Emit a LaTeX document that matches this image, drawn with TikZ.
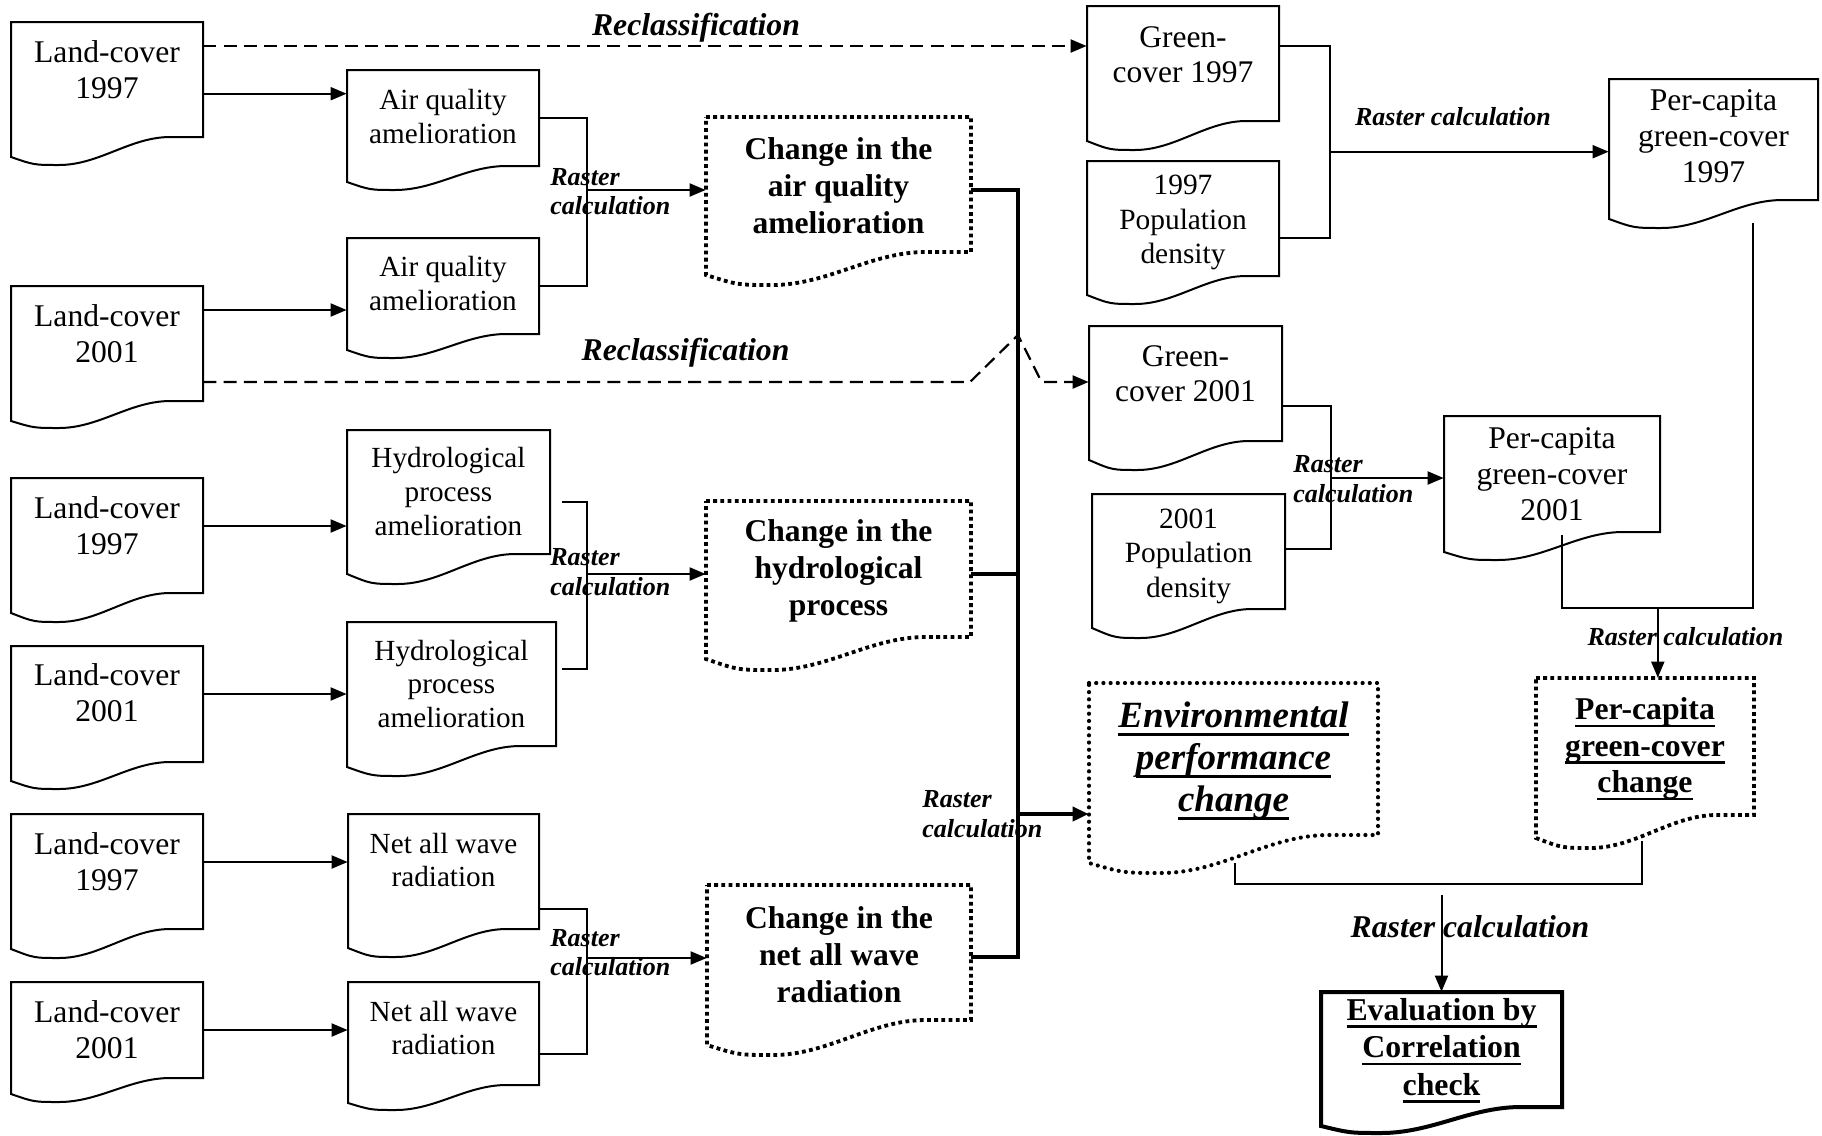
\documentclass[tikz,border=0pt]{standalone}
\usepackage{fontspec}
\setmainfont{Liberation Serif}
\usetikzlibrary{arrows.meta,calc,fit}

\newcommand\docshape[8]{%
  \pgfmathsetmacro\dshw{#5-#3}%
  \draw[#2] (#3,#4) -- (#5,#4) -- (#5,#6) -- ({#5-0.17*\dshw},#6)
     .. controls ({#5-0.38*\dshw},#6) and ({#3+0.46*\dshw},#8) .. ({#3+0.25*\dshw},#8)
     .. controls ({#3+0.12*\dshw},#8) .. (#3,#7) -- cycle;
  \node[fit={(#3,#4)(#5,#6)},inner sep=0pt] (#1) {};%
}
\newcommand\ULn[1]{\setbox0=\hbox{#1}\rlap{\raisebox{-3.8pt}{\rule{\wd0}{1.3pt}}}\box0}
\newcommand\ULnB[1]{\setbox0=\hbox{#1}\rlap{\raisebox{-4.6pt}{\rule{\wd0}{1.6pt}}}\box0}

\tikzset{
 docsty/.style={draw, line width=1pt},
 dotdoc/.style={draw, line width=1.9pt, dash pattern=on 1.9pt off 1.7pt},
 envdoc/.style={draw, line width=2.1pt, line cap=round, dash pattern=on 0pt off 3.6pt},
 evaldoc/.style={draw, line width=2pt},
 ln/.style={line width=1pt},
 arr/.style={line width=1pt, -{Triangle[length=8pt,width=6.5pt]}},
 darr/.style={line width=1.1pt, dash pattern=on 6.5pt off 3.6pt, -{Triangle[length=8pt,width=6.5pt]}},
 thk/.style={line width=2.3pt},
 thkarr/.style={line width=2.3pt, -{Triangle[length=8pt,width=7pt]}},
 txtA/.style={align=center, inner sep=0pt, font=\fontsize{15.8}{18}\selectfont},
 txtB/.style={align=center, inner sep=0pt, font=\fontsize{14.6}{16.8}\selectfont},
 txtC/.style={align=center, inner sep=0pt, font=\bfseries\fontsize{15.8}{18.5}\selectfont},
 lbl/.style={align=left, inner sep=0pt, font=\bfseries\itshape\fontsize{13}{14.8}\selectfont},
 lblbig/.style={inner sep=0pt, font=\bfseries\itshape\fontsize{15.85}{18}\selectfont},
}

\begin{document}
\begin{tikzpicture}[x=0.5pt,y=-0.5pt]
\useasboundingbox (0,0) rectangle (1822,1136);

% ---------- left column: land cover ----------
\docshape{lcA}{docsty}{11}{22}{203}{137}{157}{165}
\node[txtA] (lcAt) at (107,70) {Land-cover\\1997};
\docshape{lcB}{docsty}{11}{286}{203}{401}{421}{428}
\node[txtA] (lcBt) at (107,333.5) {Land-cover\\2001};
\docshape{lcC}{docsty}{11}{478}{203}{593}{613}{622}
\node[txtA] (lcCt) at (107,525.5) {Land-cover\\1997};
\docshape{lcD}{docsty}{11}{646}{203}{762}{781}{789}
\node[txtA] (lcDt) at (107,692.5) {Land-cover\\2001};
\docshape{lcE}{docsty}{11}{814}{203}{929}{949}{958}
\node[txtA] (lcEt) at (107,861.5) {Land-cover\\1997};
\docshape{lcF}{docsty}{11}{982}{203}{1078}{1094}{1102}
\node[txtA] (lcFt) at (107,1030) {Land-cover\\2001};

% ---------- middle column ----------
\docshape{airA}{docsty}{347}{70}{539}{166}{182}{190}
\node[txtB] (airAt) at (443,116.5) {Air quality\\amelioration};
\docshape{airB}{docsty}{347}{238}{539}{334}{350}{358}
\node[txtB] (airBt) at (443,283.5) {Air quality\\amelioration};
\docshape{hydA}{docsty}{347}{430}{550}{554}{574}{584}
\node[txtB] (hydAt) at (448.5,491.5) {Hydrological\\process\\amelioration};
\docshape{hydB}{docsty}{347}{622}{556}{746}{767}{776}
\node[txtB] (hydBt) at (451.5,684) {Hydrological\\process\\amelioration};
\docshape{netA}{docsty}{348}{814}{539}{929}{948}{957}
\node[txtB] (netAt) at (443.5,860) {Net all wave\\radiation};
\docshape{netB}{docsty}{348}{982}{539}{1085}{1103}{1110}
\node[txtB] (netBt) at (443.5,1028) {Net all wave\\radiation};

% ---------- change boxes ----------
\docshape{chA}{dotdoc}{706}{117}{971}{252}{275}{285}
\node[txtC] (chAt) at (838.5,185.5) {Change in the\\air quality\\amelioration};
\docshape{chB}{dotdoc}{706}{501}{971}{637}{659}{670}
\node[txtC] (chBt) at (838.5,570.5) {Change in the\\hydrological\\process};
\docshape{chC}{dotdoc}{707}{885}{971}{1020}{1045}{1055}
\node[txtC] (chCt) at (839,955) {Change in the\\net all wave\\radiation};

% ---------- right side ----------
\docshape{grA}{docsty}{1087}{6}{1279}{121}{141}{150}
\node[txtA, font=\fontsize{15.75}{17.5}\selectfont] (grAt) at (1183,54.5) {Green-\\cover 1997};
\docshape{popA}{docsty}{1087}{161}{1279}{276}{295}{304}
\node[txtB, font=\fontsize{14.7}{17.2}\selectfont] (popAt) at (1183,222.5) {1997\\Population\\density};
\docshape{pcA}{docsty}{1609}{79}{1818}{200}{219}{228}
\node[txtA] (pcAt) at (1713.5,136) {Per-capita\\green-cover\\1997};
\docshape{grB}{docsty}{1089}{326}{1282}{441}{460}{470}
\node[txtA, font=\fontsize{15.75}{17.5}\selectfont] (grBt) at (1185.5,373.5) {Green-\\cover 2001};
\docshape{popB}{docsty}{1092}{494}{1285}{609}{628}{638}
\node[txtB, font=\fontsize{14.7}{17.2}\selectfont] (popBt) at (1188.5,556) {2001\\Population\\density};
\docshape{pcB}{docsty}{1444}{416}{1660}{532}{552}{560}
\node[txtA] (pcBt) at (1552,474) {Per-capita\\green-cover\\2001};
\docshape{pcch}{dotdoc}{1536}{678}{1754}{815}{838}{848}
\node[txtC, font=\bfseries\fontsize{15.85}{18.3}\selectfont] (pccht) at (1645,749) {\ULn{Per-capita}\\\ULn{green-cover}\\\ULn{change}};
\docshape{env}{envdoc}{1089}{683}{1378}{835}{863}{873}
\node[txtC, font=\bfseries\itshape\fontsize{18.5}{21}\selectfont] (envt) at (1233.5,761) {\ULnB{Environmental}\\\ULnB{performance}\\\ULnB{change}};
\docshape{eval}{evaldoc}{1321}{992}{1562}{1107}{1126}{1133}
\node[txtC, font=\bfseries\fontsize{15.9}{18.7}\selectfont] (evalt) at (1441.5,1050.5) {\ULn{Evaluation by}\\\ULn{Correlation}\\\ULn{check}};

% ---------- row coordinates ----------
\coordinate (rA) at (0,93.7);
\coordinate (rB) at (0,310);
\coordinate (rC) at (0,526);
\coordinate (rD) at (0,694);
\coordinate (rE) at (0,862);
\coordinate (rF) at (0,1030);

\draw[arr] (lcA.east |- rA) -- (airA.west |- rA);
\draw[arr] (lcB.east |- rB) -- (airB.west |- rB);
\draw[arr] (lcC.east |- rC) -- (hydA.west |- rC);
\draw[arr] (lcD.east |- rD) -- (hydB.west |- rD);
\draw[arr] (lcE.east |- rE) -- (netA.west |- rE);
\draw[arr] (lcF.east |- rF) -- (netB.west |- rF);

% ---------- brackets (left) ----------
\coordinate (qa1) at (587,117.7);
\coordinate (qa2) at (587,285.7);
\coordinate (qam) at (587,190);
\draw[ln] (airA.east |- qa1) -- (qa1) -- (qa2) -- (airB.east |- qa2);
\draw[arr] (qam) -- (chA.west |- qam);

\coordinate (qh0) at (562,502);
\coordinate (qh1) at (587,502);
\coordinate (qh2) at (587,669);
\coordinate (qh3) at (562,669);
\coordinate (qhm) at (587,574);
\draw[ln] (qh0) -- (qh1) -- (qh2) -- (qh3);
\draw[arr] (qhm) -- (chB.west |- qhm);

\coordinate (qn1) at (587,909);
\coordinate (qn2) at (587,1054);
\coordinate (qnm) at (587,958);
\draw[ln] (netA.east |- qn1) -- (qn1) -- (qn2) -- (netB.east |- qn2);
\draw[arr] (qnm) -- (chC.west |- qnm);

\node[lbl, anchor=west] (rl1) at (550,191.5) {Raster\\calculation};
\node[lbl, anchor=west] (rl2) at (550,572) {Raster\\calculation};
\node[lbl, anchor=west] (rl3) at (550,952.5) {Raster\\calculation};

% ---------- thick collector ----------
\coordinate (tv1) at (1018,190);
\coordinate (tv2) at (1018,574);
\coordinate (tv3) at (1018,957);
\coordinate (tv4) at (1018,814);
\draw[thk, line join=miter] (chA.east |- tv1) -- (tv1) -- (tv3) -- (chC.east |- tv3);
\draw[thk] (chB.east |- tv2) -- (tv2);
\draw[thkarr] (tv4) -- (env.west |- tv4);
\node[lbl, anchor=west] (rl4) at (922,814) {Raster\\calculation};

% ---------- reclassification ----------
\coordinate (d1) at (0,46);
\coordinate (d2) at (0,382);
\coordinate (d2a) at (970,382);
\coordinate (d2p) at (1018,335);
\coordinate (d2b) at (1041.6,382);
\draw[darr] (lcA.east |- d1) -- (grA.west |- d1);
\draw[darr] (lcB.east |- d2) -- (d2a) -- (d2p) -- (d2b) -- (grB.west |- d2);
\node[lblbig] (rc1) at (696,28) {Reclassification};
\node[lblbig] (rc2) at (685.5,353) {Reclassification};

% ---------- right brackets ----------
\coordinate (g1) at (1330,46);
\coordinate (g2) at (1330,237.7);
\coordinate (gm) at (1330,151.7);
\draw[ln] (grA.east |- g1) -- (g1) -- (g2) -- (popA.east |- g2);
\draw[arr] (gm) -- (pcA.west |- gm);
\node[lbl] (rl5) at (1453,117) {Raster calculation};

\coordinate (h1) at (1330.7,406);
\coordinate (h2) at (1330.7,549);
\coordinate (hm) at (1330.7,478);
\draw[ln] (grB.east |- h1) -- (h1) -- (h2) -- (popB.east |- h2);
\draw[arr] (hm) -- (pcB.west |- hm);
\node[lbl, anchor=west] (rl6) at (1293,479) {Raster\\calculation};

\coordinate (v1) at (1752.6,223);
\coordinate (v2) at (1752.6,607.7);
\coordinate (w1) at (1561.6,535);
\coordinate (w2) at (1561.6,607.7);
\coordinate (m1) at (1657.8,607.7);
\draw[ln] (v1) -- (v2) -- (w2) -- (w1);
\draw[arr] (m1) -- (pcch.north -| m1);
\node[lbl] (rl7) at (1685.5,637) {Raster calculation};

\coordinate (e1) at (1235,863);
\coordinate (e2) at (1235,884.3);
\coordinate (e3) at (1642,884.3);
\coordinate (e4) at (1642,841);
\coordinate (ea) at (1441.5,895);
\draw[ln] (e1) -- (e2) -- (e3) -- (e4);
\draw[arr] (ea) -- (eval.north);
\node[lblbig] (rl8) at (1470,926.7) {Raster calculation};
\end{tikzpicture}
\end{document}
